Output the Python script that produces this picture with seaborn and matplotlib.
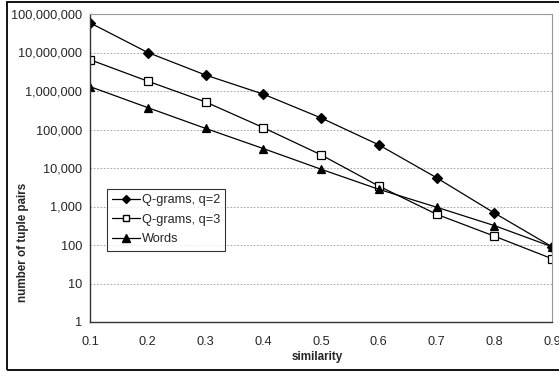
import numpy as np
import pandas as pd
import matplotlib
matplotlib.use("Agg")
import matplotlib.pyplot as plt
import seaborn as sns
from matplotlib.patches import Rectangle
from matplotlib.lines import Line2D
from matplotlib.ticker import FuncFormatter, FixedLocator

similarity = [0.1, 0.2, 0.3, 0.4, 0.5, 0.6, 0.7, 0.8, 0.9]
qgrams2 = [59_000_000, 10_000_000, 2_600_000, 830_000, 200_000, 40_000, 5_600, 680, 90]
qgrams3 = [6_500_000, 1_800_000, 520_000, 112_000, 22_000, 3_400, 630, 170, 44]
words = [1_300_000, 370_000, 107_000, 32_000, 9_300, 2_800, 960, 320, 90]
series_names = ["Q-grams, q=2", "Q-grams, q=3", "Words"]
y_ticks = [1, 10, 100, 1_000, 10_000, 100_000, 1_000_000, 10_000_000, 100_000_000]
x_ticks = [0.1, 0.2, 0.3, 0.4, 0.5, 0.6, 0.7, 0.8, 0.9]

df = pd.DataFrame({
    "similarity": similarity * 3,
    "pairs": qgrams2 + qgrams3 + words,
    "method": [series_names[0]] * 9 + [series_names[1]] * 9 + [series_names[2]] * 9,
})

sns.set_style("white")
plt.rcParams["font.family"] = ["Liberation Sans", "DejaVu Sans"]
FS = 9.2
LFS = 8.4
plt.rcParams["font.size"] = FS

fig = plt.figure(figsize=(5.59, 3.72), dpi=100)
ax = fig.add_axes([90 / 559, 1 - 322 / 372, 462 / 559, 308 / 372])

# outer chart frame
fig.patches.append(Rectangle((7 / 559, 2 / 372), 1.0, 1 - 4 / 372,
                             transform=fig.transFigure, fill=False,
                             edgecolor="black", linewidth=1.3, clip_on=False))

markers = {series_names[0]: "D", series_names[1]: "s", series_names[2]: "^"}
sns.lineplot(data=df, x="similarity", y="pairs", hue="method", style="method",
             markers=markers, dashes=False,
             palette=["black", "black", "black"], linewidth=0.9, ax=ax,
             legend=False)

# marker faces and sizes per series
for line, name in zip(ax.get_lines(), series_names):
    line.set_markeredgecolor("black")
    line.set_markeredgewidth(0.9)
    if name == series_names[0]:
        line.set_markersize(5.5)
        line.set_markerfacecolor("black")
    elif name == series_names[1]:
        line.set_markersize(6)
        line.set_markerfacecolor("white")
    else:
        line.set_markersize(6)
        line.set_markerfacecolor("black")

ax.set_yscale("log")
ax.set_ylim(1, 100_000_000)
ax.set_xlim(0.1, 0.9)
ax.yaxis.set_major_locator(FixedLocator(y_ticks))
ax.yaxis.set_minor_locator(FixedLocator([]))
ax.yaxis.set_major_formatter(FuncFormatter(lambda v, p: f"{int(round(v)):,}"))
ax.set_xticks(x_ticks)
ax.set_xticklabels([f"{v:.1f}" for v in x_ticks])

ax.grid(axis="y", which="major", color="#999999", linestyle=(0, (2, 2)), linewidth=0.6)
ax.set_axisbelow(True)

for side in ["left", "bottom"]:
    ax.spines[side].set_color("#333333")
    ax.spines[side].set_linewidth(1.0)
for side in ["top", "right"]:
    ax.spines[side].set_color("#999999")
    ax.spines[side].set_linewidth(0.8)

ax.tick_params(axis="y", which="major", direction="out", length=4, width=0.8,
               color="#333333", labelsize=FS, pad=1.5)
ax.tick_params(axis="x", which="major", direction="out", length=4, width=0.8,
               color="#333333", labelsize=FS, pad=6)

ax.set_xlabel("similarity", fontweight="bold", fontsize=LFS)
ax.set_ylabel("number of tuple pairs", fontweight="bold", fontsize=LFS)
ax.xaxis.set_label_coords((317 - 90) / 462, -(351 - 322) / 308)
ax.yaxis.set_label_coords(-(90 - 29) / 462, (322 - 242) / 308)

handles = [
    Line2D([], [], color="black", linewidth=0.9, marker="D", markersize=4.5,
           markerfacecolor="black", markeredgecolor="black"),
    Line2D([], [], color="black", linewidth=0.9, marker="s", markersize=5,
           markerfacecolor="white", markeredgecolor="black"),
    Line2D([], [], color="black", linewidth=0.9, marker="^", markersize=5.5,
           markerfacecolor="black", markeredgecolor="black"),
]
leg = ax.legend(handles, series_names, loc="upper left",
                bbox_to_anchor=(17 / 462, (322 - 189) / 308),
                frameon=True, fancybox=False, edgecolor="black",
                fontsize=FS, handlelength=2.2, handletextpad=0.1,
                labelspacing=0.6, borderpad=0.4, borderaxespad=0)
leg.get_frame().set_linewidth(0.8)

fig.savefig("out.png", dpi=100)
